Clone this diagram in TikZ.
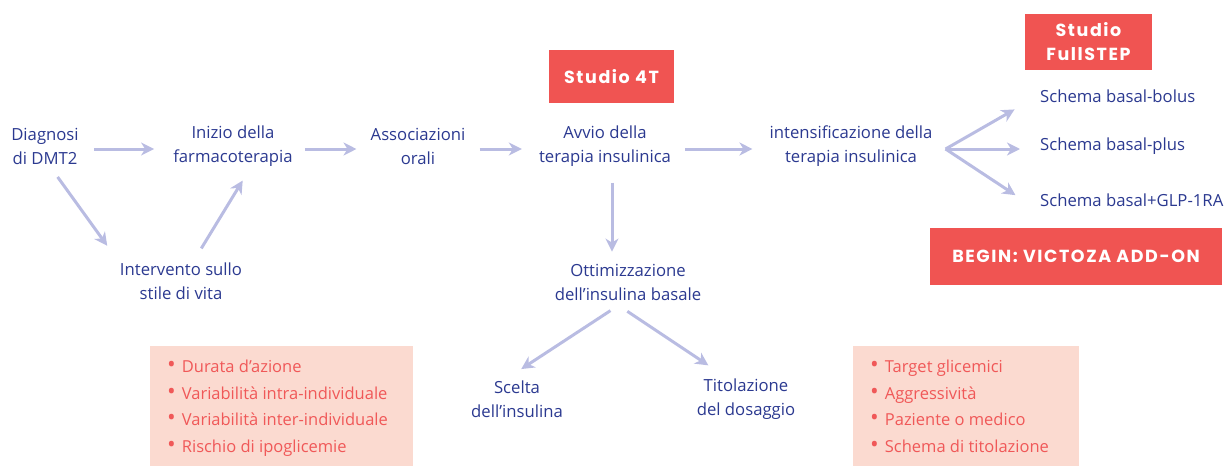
\documentclass[tikz,border=0pt]{standalone}
\usepackage{fontspec}
\setmainfont{Open Sans}
\newfontfamily\poppins[LetterSpace=9]{Poppins}
\usetikzlibrary{arrows.meta}
\definecolor{navy}{RGB}{43,57,144}
\definecolor{redbox}{RGB}{240,84,82}
\definecolor{pinkbox}{RGB}{251,218,208}
\definecolor{pinktext}{RGB}{240,88,88}
\definecolor{arrowc}{RGB}{185,188,226}
\tikzset{
  lbl/.style={text=navy, align=center, inner sep=2pt, font=\fontsize{16.7}{24}\selectfont},
  sch/.style={text=navy, anchor=west, inner sep=2pt, font=\fontsize{16.7}{24}\selectfont},
  redtag/.style={fill=redbox, text=white, align=center, inner sep=0pt, font=\poppins\bfseries\fontsize{17.5}{24}\selectfont},
  pinkpanel/.style={fill=pinkbox, anchor=north west, inner sep=0pt},
  listtext/.style={text=pinktext, anchor=west, align=left, inner sep=0pt, font=\fontsize{16.5}{26.5}\selectfont},
  arr/.style={draw=arrowc, line width=3pt, -{Stealth[length=13pt,width=13pt,inset=4pt]}},
}
\newcommand{\bul}{\scalebox{1.4}{•}\hspace{6pt}}
\begin{document}
\begin{tikzpicture}[x=1pt,y=-1pt]
\useasboundingbox (0,0) rectangle (1229,466);
% text nodes
\node[lbl] (dia) at (45,146) {Diagnosi\\di DMT2};
\node[lbl] (ini) at (233,146) {Inizio della\\farmacoterapia};
\node[lbl] (aso) at (418,146) {Associazioni\\orali};
\node[lbl] (avv) at (605,146) {Avvio della\\terapia insulinica};
\node[lbl] (int) at (851,146) {intensificazione della\\terapia insulinica};
\node[lbl] (sti) at (181,281) {Intervento sullo\\stile di vita};
\node[lbl] (ott) at (628,282) {Ottimizzazione\\dell’insulina basale};
\node[lbl] (sce) at (517,399) {Scelta\\dell’insulina};
\node[lbl] (tit) at (746,399) {Titolazione\\del dosaggio};
\node[sch] (sb1) at (1038,96) {Schema basal-bolus};
\node[sch] (sb2) at (1038,146) {Schema basal-plus};
\node[sch] (sb3) at (1038,200) {Schema basal+GLP-1RA};
% red tags
\node[redtag, minimum width=125pt, minimum height=53pt] (s4t) at (611.5,76.5) {Studio 4T};
\node[redtag, minimum width=127pt, minimum height=56pt] (sfs) at (1088.5,42) {Studio\\FullSTEP};
\node[redtag, minimum width=292pt, minimum height=57pt] (beg) at (1076,256.5) {BEGIN: VICTOZA ADD-ON};
% pink lists
\node[pinkpanel, minimum width=263pt, minimum height=120pt] (pb1) at (150,346) {};
\node[listtext] (pl1) at ([xshift=17pt, yshift=-2pt]pb1.west)
  {\bul Durata d’azione\\\bul Variabilità intra-individuale\\\bul Variabilità inter-individuale\\\bul Rischio di ipoglicemie};
\node[pinkpanel, minimum width=226pt, minimum height=120pt] (pb2) at (853,346) {};
\node[listtext] (pl2) at ([xshift=17pt]pb2.west)
  {\bul Target glicemici\\\bul Aggressività\\\bul Paziente o medico\\\bul Schema di titolazione};
% connectors
\draw[arr, shorten <=13pt, shorten >=17pt] ([yshift=-3pt]dia.east) -- ([yshift=-3pt]dia.east -| ini.west);
\draw[arr, shorten <=10pt, shorten >=12pt] ([yshift=-3pt]ini.east) -- ([yshift=-3pt]ini.east -| aso.west);
\draw[arr, shorten <=12pt, shorten >=15pt] ([yshift=-3pt]aso.east) -- ([yshift=-3pt]aso.east -| avv.west);
\draw[arr, shorten <=12pt, shorten >=15pt] ([yshift=-3pt]avv.east) -- ([yshift=-3pt]avv.east -| int.west);
\draw[arr, shorten <=13pt, shorten >=18pt] ([xshift=5pt]dia.south) -- (sti.north west);
\draw[arr, shorten <=14pt, shorten >=14pt] ([xshift=13pt]sti.north) -- ([xshift=17pt]ini.south);
\draw[arr, shorten <=14pt, shorten >=10pt] ([xshift=7pt]avv.south) -- ([xshift=7pt]avv.south |- ott.north);
\draw[arr, shorten <=15pt, shorten >=17pt] ([xshift=-5pt]ott.south) -- ([xshift=-10pt]sce.north);
\draw[arr, shorten <=16pt, shorten >=20pt] ([xshift=-14pt]ott.south) -- ([xshift=-21pt]tit.north);
\coordinate (fan) at ([shift={(11pt,-3pt)}]int.east);
\draw[arr, shorten >=27pt] (fan) -- (sb1.west);
\draw[arr, shorten >=18pt] (fan) -- ([yshift=-3pt]sb2.west);
\draw[arr, shorten >=27pt] (fan) -- ([yshift=-10pt]sb3.west);
\end{tikzpicture}
\end{document}
